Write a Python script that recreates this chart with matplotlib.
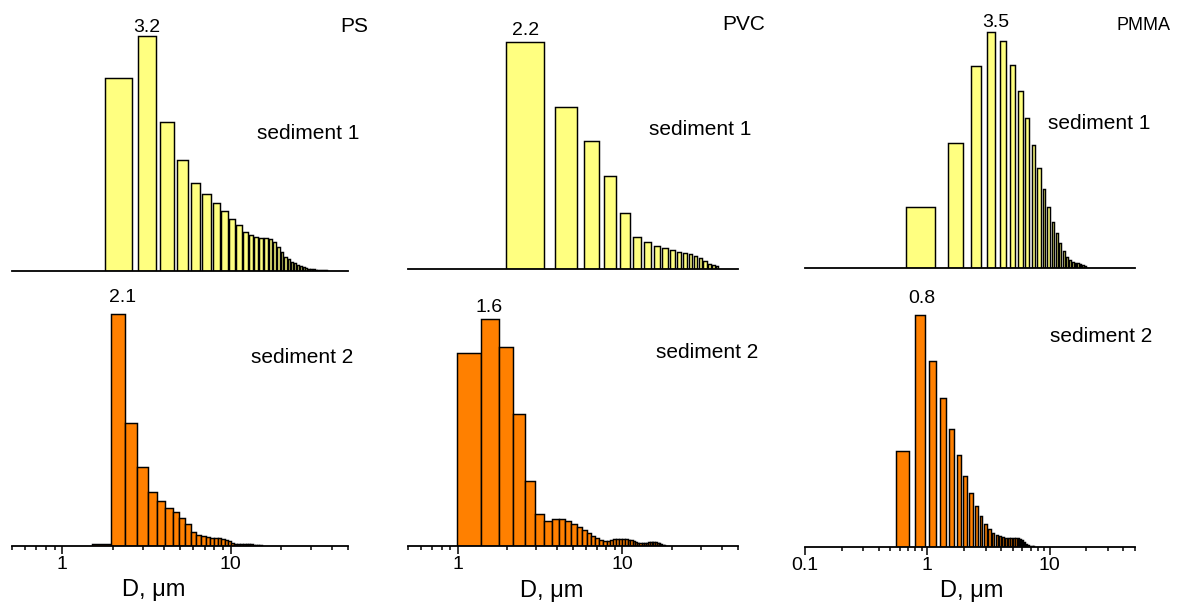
import numpy as np
import matplotlib
matplotlib.use("Agg")
import matplotlib.pyplot as plt
from matplotlib.ticker import FixedLocator, FuncFormatter, LogLocator, NullFormatter

plt.rcParams['font.family'] = ['Liberation Sans', 'DejaVu Sans']

# ---------------- data (relative frequency, arbitrary units) ----------------
# PS, sediment 1
ps1_start, ps1_step, ps1_width = 2.2, 1.0, 0.8
ps1_heights = [579, 705, 448, 333, 265, 232, 205, 179, 155, 137, 118, 107, 101, 99,
               99, 95, 87, 72, 58, 43, 35, 28, 23, 18, 14, 11, 9, 7, 6, 5, 4, 4, 3,
               3, 2, 2, 1]
# PS, sediment 2
ps2_start, ps2_step, ps2_width = 1.72, 0.43, 0.43
ps2_heights = [4, 694, 369, 237, 160, 134, 113, 101, 84, 66, 40, 32, 28, 25, 23, 23,
               23, 19, 16, 13, 9, 6, 5, 5, 5, 4, 4, 4, 3, 3, 3, 2]
# PVC, sediment 1
pvc1_start, pvc1_step, pvc1_width = 2.65, 1.94, 1.4
pvc1_heights = [681, 486, 385, 280, 168, 98, 82, 71, 64, 58, 52, 48, 45, 41, 33, 24,
                16, 12, 10]
# PVC, sediment 2
pvc2_start, pvc2_step, pvc2_width = 1.19, 0.39, 0.39
pvc2_heights = [578, 681, 596, 397, 196, 96, 75, 80, 80, 75, 67, 56, 47, 38, 30, 23,
                18, 16, 16, 18, 20, 21, 22, 22, 21, 19, 17, 14, 11, 9.5, 9, 8, 8, 9,
                11, 12, 12, 12, 11, 10, 9, 7, 4, 2]
# PMMA, sediment 1
pmma1_start, pmma1_step, pmma1_width = 0.91, 0.81, 0.49
pmma1_heights = [183, 377, 606, 708, 683, 611, 532, 450, 371, 300, 239, 184, 139, 105,
                 75, 53, 35, 24, 19, 17, 16, 14, 11, 6, 2]
# PMMA, sediment 2
pmma2_start, pmma2_step, pmma2_width = 0.637, 0.235, 0.155
pmma2_heights = [288, 694, 558, 446, 352, 276, 212, 162, 122, 92, 68, 52, 42, 36, 31,
                 28, 27, 27, 27, 27, 27, 27, 24, 19, 14, 9, 5, 3, 1.5, 0.5]

polymers = ["PS", "PVC", "PMMA"]
peak_labels_top = ["3.2", "2.2", "3.5"]
peak_labels_bottom = ["2.1", "1.6", "0.8"]
tick_values = [[1, 10], [1, 10], [0.1, 1, 10]]
xlims = [(0.5, 50), (0.5, 50), (0.1, 50)]

YELLOW = "#FFFF80"
ORANGE = "#FF8000"

W, H = 1181, 608
fig = plt.figure(figsize=(W / 100, H / 100), dpi=100)


def fx(x):
    return x / W


def fy(y):
    return 1 - y / H


AX_H = 250.0  # axes height in px
cols_x = [(11.7, 348.3), (408.2, 737.5), (805.0, 1135.0)]
top_base = [271.0, 269.3, 268.3]
bot_base = [545.5, 546.0, 546.5]

series_top = [(ps1_start, ps1_step, ps1_width, ps1_heights),
              (pvc1_start, pvc1_step, pvc1_width, pvc1_heights),
              (pmma1_start, pmma1_step, pmma1_width, pmma1_heights)]
series_bot = [(ps2_start, ps2_step, ps2_width, ps2_heights),
              (pvc2_start, pvc2_step, pvc2_width, pvc2_heights),
              (pmma2_start, pmma2_step, pmma2_width, pmma2_heights)]


def make_ax(col, base, bottom_row):
    x0, x1 = cols_x[col]
    ax = fig.add_axes([fx(x0), (H - base) / H, (x1 - x0) / W, AX_H / H])
    ax.set_xscale('log')
    ax.set_xlim(*xlims[col])
    ax.set_ylim(0, AX_H * 3)
    for s in ['left', 'right', 'top']:
        ax.spines[s].set_visible(False)
    ax.spines['bottom'].set_linewidth(1.3)
    ax.patch.set_alpha(0)
    ax.set_yticks([])
    if bottom_row:
        ax.xaxis.set_major_locator(FixedLocator(tick_values[col]))
        ax.xaxis.set_major_formatter(FuncFormatter(lambda v, p: ('%g' % v)))
        ax.xaxis.set_minor_locator(LogLocator(base=10, subs=np.arange(2, 10)))
        ax.xaxis.set_minor_formatter(NullFormatter())
        ax.tick_params(axis='x', which='major', direction='out', length=5.5,
                       width=1.1, labelsize=14, pad=2)
        ax.tick_params(axis='x', which='minor', direction='out', length=3,
                       width=1.1)
    else:
        ax.set_xticks([])
        ax.xaxis.set_minor_locator(FixedLocator([]))
    return ax


for col in range(3):
    for row, (series, bases, color) in enumerate(
            [(series_top, top_base, YELLOW), (series_bot, bot_base, ORANGE)]):
        start, step, width, heights = series[col]
        centers = start + step * np.arange(len(heights))
        ax = make_ax(col, bases[col], row == 1)
        ax.bar(centers, heights, width=width, color=color, edgecolor='black',
               linewidth=1.05, align='center', zorder=2)

# ---------------- text ----------------
def t(x, y, s, size, ha='center'):
    fig.text(fx(x), fy(y), s, fontsize=size, ha=ha, va='baseline')

# polymer names
t(354, 31.7, polymers[0], 15)
t(743.5, 30, polymers[1], 15)
t(1143, 30, polymers[2], 13)

# peak labels
t(147, 32.3, peak_labels_top[0], 14)
t(525.5, 35, peak_labels_top[1], 14)
t(996, 26.7, peak_labels_top[2], 14)
t(123, 301.7, peak_labels_bottom[0], 14)
t(489, 311.7, peak_labels_bottom[1], 14)
t(921.5, 303, peak_labels_bottom[2], 14)

# sediment labels
t(308.5, 139.3, "sediment 1", 15)
t(700.5, 135, "sediment 1", 15)
t(1099.5, 129.3, "sediment 1", 15)
t(302.5, 362.7, "sediment 2", 15)
t(707, 358.3, "sediment 2", 15)
t(1101, 341.7, "sediment 2", 15)

# axis labels
t(153.3, 596, "D, μm", 17)
t(552, 596.7, "D, μm", 17)
t(971.5, 597.3, "D, μm", 17)

fig.savefig("out.png", dpi=100)
